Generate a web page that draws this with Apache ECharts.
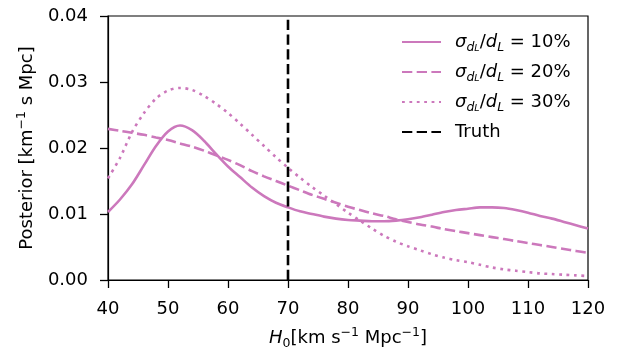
<!DOCTYPE html>
<html><head><meta charset="utf-8">
<script src="https://cdn.jsdelivr.net/npm/echarts@6/dist/echarts.min.js"></script>
<style>html,body{margin:0;padding:0;background:#fff}#c{width:617px;height:350px}</style>
</head><body><div id="c"></div><script>
const h0 = [40,42,44,46,48,50,52,54,56,58,60,62,64,66,68,70,72,74,76,78,80,82,84,86,88,90,92,94,96,98,100,102,104,106,108,110,112,114,116,118,120];
const post10 = [0.0103,0.0122,0.0145,0.0174,0.0203,0.0225,0.0234,0.0227,0.0211,0.0191,0.0172,0.0156,0.0140,0.0127,0.0117,0.0110,0.0104,0.0100,0.0096,0.0093,0.0091,0.0090,0.0089,0.0089,0.0090,0.0092,0.0095,0.0099,0.0103,0.0106,0.0108,0.0110,0.0110,0.0109,0.0106,0.0102,0.0097,0.0093,0.0088,0.0083,0.0078];
const post20 = [0.0229,0.0226,0.0223,0.0220,0.0216,0.0212,0.0207,0.0202,0.0196,0.0189,0.0182,0.0174,0.0165,0.0157,0.0150,0.0143,0.0136,0.0129,0.0123,0.0117,0.0111,0.0106,0.0101,0.0097,0.0092,0.0088,0.0084,0.0081,0.0077,0.0074,0.0071,0.0068,0.0065,0.0062,0.0059,0.0056,0.0053,0.0050,0.0047,0.0044,0.0041];
const post30 = [0.0154,0.0185,0.0224,0.0253,0.0275,0.0287,0.0291,0.0288,0.0279,0.0267,0.0253,0.0237,0.0220,0.0203,0.0186,0.0170,0.0155,0.0141,0.0128,0.0115,0.0102,0.0090,0.0078,0.0067,0.0058,0.0051,0.0045,0.0039,0.0034,0.0030,0.0027,0.0023,0.0019,0.0016,0.0014,0.0012,0.0010,0.0009,0.0008,0.0007,0.0006];
const truthH0 = 70;
const yRange = [0, 0.04];
const xRange = [40, 120];
const levels = ['10%', '20%', '30%'];

const pink = '#cc78bc';
const FONT = 'DejaVu Sans';
const FS = 18;
const pairs = ys => h0.map((x, i) => [x, ys[i]]);

const chart = echarts.init(document.getElementById('c'), null, {renderer: 'canvas'});
const lineSeries = (name, ys, type) => ({
  name: name, type: 'line', data: pairs(ys), showSymbol: false, symbol: 'none', smooth: 0.3,
  lineStyle: {color: pink, width: 2.6, type: type}, itemStyle: {color: pink}, animation: false
});
chart.setOption({
  animation: false,
  textStyle: {fontFamily: FONT},
  grid: {left: 108, right: 29, top: 16, bottom: 70, containLabel: false, outerBoundsMode: 'none',
    show: true, borderColor: '#000', borderWidth: 1.2, backgroundColor: 'transparent'},
  xAxis: {
    type: 'value', min: xRange[0], max: xRange[1], interval: 10,
    axisLine: {show: true, onZero: false, lineStyle: {color: '#000', width: 1.2}},
    axisTick: {show: true, length: 8, lineStyle: {color: '#000', width: 1.3}},
    axisLabel: {color: '#000', fontSize: FS, fontFamily: FONT, margin: 20},
    splitLine: {show: false},
    name: '{i|H}{s|0}{n|[km s}{u|−1}{n| Mpc}{u|−1}{n|]}', nameLocation: 'middle', nameGap: 46,
    nameTextStyle: {color: '#000', fontFamily: FONT, rich: {
      i: {fontSize: FS, fontStyle: 'italic', fontFamily: FONT, color: '#000', lineHeight: 24},
      s: {fontSize: 12.5, fontFamily: FONT, color: '#000', lineHeight: 11, verticalAlign: 'bottom'},
      n: {fontSize: FS, fontFamily: FONT, color: '#000', lineHeight: 24},
      u: {fontSize: 12.5, fontFamily: FONT, color: '#000', lineHeight: 11, verticalAlign: 'top'}
    }}
  },
  yAxis: {
    type: 'value', min: yRange[0], max: yRange[1], interval: 0.01,
    axisLine: {show: true, onZero: false, lineStyle: {color: '#000', width: 1.2}},
    axisTick: {show: true, length: 8, lineStyle: {color: '#000', width: 1.3}},
    axisLabel: {color: '#000', fontSize: FS, fontFamily: FONT, margin: 20, formatter: v => v.toFixed(2)},
    splitLine: {show: false},
    name: '{n|Posterior [km}{u|−1}{n| s Mpc]}', nameLocation: 'middle', nameGap: 69,
    nameTextStyle: {color: '#000', fontFamily: FONT, rich: {
      n: {fontSize: FS, fontFamily: FONT, color: '#000', lineHeight: 24},
      u: {fontSize: 12.5, fontFamily: FONT, color: '#000', lineHeight: 11, verticalAlign: 'top'}
    }}
  },
  legend: {
    orient: 'vertical', left: 401, top: 30, padding: 0, itemWidth: 39, itemHeight: 14, itemGap: 6,
    itemStyle: {opacity: 0},
    data: levels.concat(['Truth']),
    textStyle: {fontFamily: FONT, fontSize: FS, color: '#000', lineHeight: 24, padding: [0, 0, 0, 9],
      rich: {
        i: {fontSize: FS, fontStyle: 'italic', fontFamily: FONT, color: '#000', lineHeight: 24},
        s: {fontSize: 12.5, fontStyle: 'italic', fontFamily: FONT, color: '#000', lineHeight: 12, verticalAlign: 'bottom'},
        ss: {fontSize: 9.5, fontStyle: 'italic', fontFamily: FONT, color: '#000', lineHeight: 6, verticalAlign: 'bottom'},
        n: {fontSize: FS, fontFamily: FONT, color: '#000', lineHeight: 24}
      }},
    formatter: name => name === 'Truth' ? '{n|Truth}' : '{i|σ}{s|d}{ss|L}{n|/}{i|d}{s|L}{n| = ' + name + '}'
  },
  series: [
    lineSeries(levels[0], post10, 'solid'),
    lineSeries(levels[1], post20, [10.3, 4.4]),
    lineSeries(levels[2], post30, [2.8, 4.6]),
    {name: 'Truth', type: 'line', data: [[truthH0, yRange[0]], [truthH0, yRange[1]]], showSymbol: false, symbol: 'none',
     lineStyle: {color: '#000', width: 2.6, type: [10.3, 4.4]}, itemStyle: {color: '#000'}, z: 5}
  ]
});
</script></body></html>
